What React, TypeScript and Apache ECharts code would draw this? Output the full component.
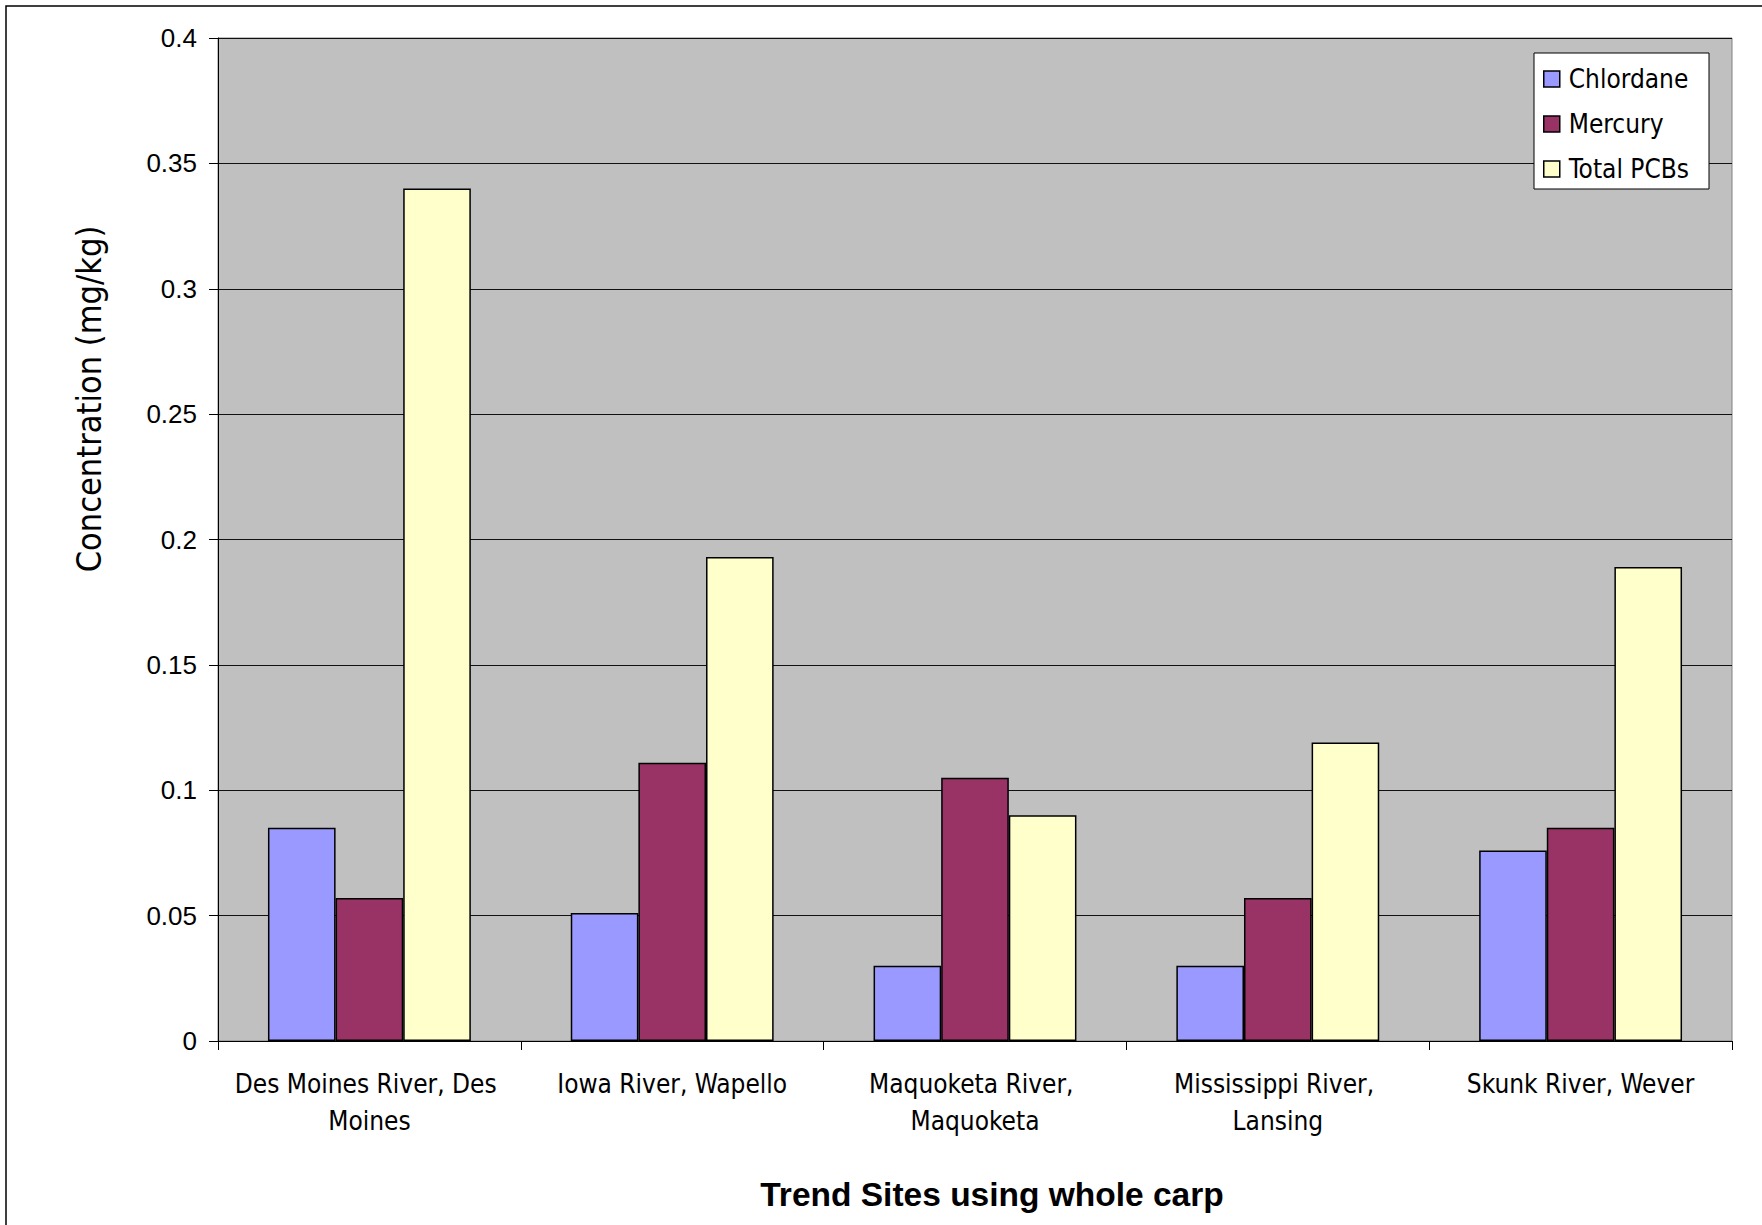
import React, { useEffect, useRef } from "react";
import * as echarts from "echarts";

// Sites sampled (whole carp) and measured concentrations in mg/kg
const categories = [
  "Des Moines River, Des Moines",
  "Iowa River, Wapello",
  "Maquoketa River, Maquoketa",
  "Mississippi River, Lansing",
  "Skunk River, Wever",
];
const chlordane = [0.085, 0.051, 0.03, 0.03, 0.076];
const mercury = [0.057, 0.111, 0.105, 0.057, 0.085];
const totalPCBs = [0.34, 0.193, 0.09, 0.119, 0.189];

const seriesNames = ["Chlordane", "Mercury", "Total PCBs"];
const seriesColors = ["#9999FF", "#993366", "#FFFFCC"];

const yTitle = "Concentration (mg/kg)";
const xTitle = "Trend Sites using whole carp";

const W = 1762;
const H = 1225;

const labelFont = "'DejaVu Sans Condensed', 'DejaVu Sans', sans-serif";
const numFont = "'Liberation Sans', Arial, sans-serif";

export default function App() {
  const ref = useRef<HTMLDivElement>(null);

  useEffect(() => {
    if (!ref.current) return;
    const chart = echarts.init(ref.current, null, { renderer: "svg" });

    const values = [chlordane, mercury, totalPCBs];

    chart.setOption({
      animation: false,
      backgroundColor: "#FFFFFF",
      grid: {
        left: 218,
        right: 30,
        top: 38,
        bottom: 184,
        show: true,
        backgroundColor: "#C0C0C0",
        borderColor: "#808080",
        borderWidth: 1,
        containLabel: false,
      },
      legend: {
        orient: "vertical",
        left: 1543,
        top: 64,
        padding: 0,
        itemWidth: 16,
        itemHeight: 16,
        itemGap: 15,
        icon: "rect",
        z: 10,
        itemStyle: { borderColor: "#000", borderWidth: 1.5 },
        textStyle: {
          fontFamily: labelFont,
          fontSize: 26,
          color: "#000",
          lineHeight: 30,
          padding: [0, 0, 0, 4],
        },
        data: seriesNames,
      },
      xAxis: {
        type: "category",
        data: categories,
        axisLine: { show: true, lineStyle: { color: "#000", width: 1 } },
        axisTick: { show: true, alignWithLabel: false, length: 9, lineStyle: { color: "#000" } },
        axisLabel: {
          interval: 0,
          fontFamily: labelFont,
          fontSize: 26,
          color: "#000",
          margin: 24,
          lineHeight: 37,
          width: 285,
          overflow: "break",
        },
        splitLine: { show: false },
      },
      yAxis: {
        type: "value",
        min: 0,
        max: 0.4,
        interval: 0.05,
        axisLine: { show: true, lineStyle: { color: "#000", width: 1 } },
        axisTick: { show: true, length: 9, lineStyle: { color: "#000" } },
        axisLabel: {
          fontFamily: numFont,
          fontSize: 26,
          color: "#000",
          margin: 21,
          formatter: (v: number) => String(Number(v.toFixed(2))),
        },
        splitLine: { show: true, lineStyle: { color: "#111", width: 1 } },
      },
      series: seriesNames.map((name, i) => ({
        name,
        type: "bar",
        data: values[i],
        barGap: "0%",
        barCategoryGap: "33%",
        itemStyle: {
          color: seriesColors[i],
          borderColor: "#000",
          borderWidth: 1.5,
        },
      })),
      graphic: [
        {
          type: "rect",
          z: -10,
          silent: true,
          shape: { x: 6, y: 6, width: W + 50, height: H + 50 },
          style: { fill: "none", stroke: "#000", lineWidth: 1.5 },
        },
        {
          type: "rect",
          z: 5,
          silent: true,
          shape: { x: 1534, y: 53, width: 175, height: 136 },
          style: { fill: "#FFFFFF", stroke: "#000", lineWidth: 1 },
        },
        {
          type: "text",
          x: 89,
          y: 399,
          rotation: Math.PI / 2,
          silent: true,
          style: {
            text: yTitle,
            font: `34px ${labelFont}`,
            fill: "#000",
            align: "center",
            verticalAlign: "middle",
            textAlign: "center",
            textVerticalAlign: "middle",
          },
        },
        {
          type: "text",
          x: 992,
          y: 1194,
          silent: true,
          style: {
            text: xTitle,
            font: `bold 33.5px ${numFont}`,
            fill: "#000",
            align: "center",
            verticalAlign: "middle",
            textAlign: "center",
            textVerticalAlign: "middle",
          },
        },
      ],
    });

    return () => chart.dispose();
  }, []);

  return (
    <div
      ref={ref}
      style={{ position: "absolute", left: 0, top: 0, width: W, height: H, background: "#fff" }}
    />
  );
}
